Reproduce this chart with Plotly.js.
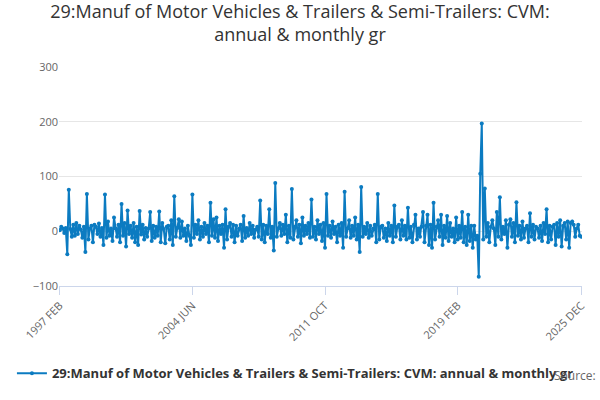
<!DOCTYPE html>
<html>
<head>
<meta charset="utf-8">
<script src="https://cdn.plot.ly/plotly-3.0.1.min.js"></script>
<style>html,body{margin:0;padding:0;background:#fff}#chart{width:600px;height:400px}</style>
</head>
<body>
<div id="chart"></div>
<script>
const SERIES_NAME = '<b>29:Manuf of Motor Vehicles & Trailers & Semi-Trailers: CVM: annual & monthly gr</b>';
const MONTHS = ['JAN','FEB','MAR','APR','MAY','JUN','JUL','AUG','SEP','OCT','NOV','DEC'];
const TICK_LABELS = ['1997 FEB', '2004 JUN', '2011 OCT', '2019 FEB', '2025 DEC'];

// monthly growth values, Feb 1997 .. Dec 2025
const values = [
  2, 8, 5, -3, 6, -42, 76, 4, -10, 12, -8,
  15, -5, 10, 3, -12, 8, -38, 68, -15, 5, 10, -20,
  12, 8, -5, 14, -10, 6, -25, 67, -12, 18, -8, 5,
  -18, 25, 5, -10, 12, -20, 50, -8, 15, -28, 38, -5,
  10, -12, 15, -20, 8, -25, 37, -6, 12, -15, 6, -10,
  5, 35, -18, 10, -12, 8, -8, 36, -20, 15, 4, -22,
  8, 10, -15, 20, -25, 64, -10, 6, 22, -12, 18, -8,
  5, -18, 10, -8, -25, 67, -12, 12, -5, 20, -15, 8,
  -10, 15, -5, 10, -20, 52, -8, 22, -12, 25, -18, 10,
  -5, 12, -30, 40, -15, 8, 15, -10, 12, -20, 10, -8,
  5, 12, -18, 28, -12, 6, -8, 15, -5, 10, -12, 3,
  8, -10, 56, -15, 12, -20, 10, -5, 40, -12, 8, -35,
  88, -10, 5, 15, -8, 12, -5, 30, -20, 10, -12, 77,
  -15, 8, 20, -10, 12, -22, 25, -8, 10, -5, 15, -12,
  58, -10, 8, -15, 20, -5, 12, -18, 15, -30, 68, -8,
  10, -12, 18, -5, 8, -20, 12, -8, 15, -30, 72, -10,
  5, 20, -12, 10, -8, 25, -15, 12, -38, 81, -10, 8,
  -5, 15, -12, 10, -8, 5, 12, -20, 68, -15, 8, 10,
  -12, 5, -18, 15, -8, 10, -20, 47, -10, 8, 12, -15,
  20, -8, 10, -15, 43, -12, 8, -20, 12, 30, -15, 5,
  -10, 8, 35, -20, 10, 30, -25, 12, -30, 52, -15, 8,
  20, -10, 30, -25, 10, -12, 28, -18, 15, -10, 5, -20,
  25, -15, 10, -12, 35, -20, 8, -25, 30, -18, 10, -30,
  10, -15, -8, -83, 105, 197, -15, 78, -10, 15, -20, 8,
  20, 5, -25, 35, -10, 62, -15, 8, -5, 20, -30, 12,
  22, -10, 15, -20, 53, -8, 10, -15, 18, -12, 5, 10,
  -20, 33, -10, 12, -15, 8, 5, -12, 10, -18, 15, -5,
  40, -20, 10, -15, 8, 12, -25, 15, -10, 20, -28, 10,
  15, -15, 18, -30, 15, 18, 12, -10, 5, 12, -8, -10
];

// build month labels starting at 1997 FEB
const dates = values.map(function (v, i) {
  const m = i + 1;
  return (1997 + Math.floor(m / 12)) + ' ' + MONTHS[m % 12];
});

Plotly.newPlot('chart', [{
  x: dates,
  y: values,
  type: 'scatter',
  mode: 'lines+markers',
  name: SERIES_NAME,
  line: {color: '#0b7bc1', width: 2},
  marker: {color: '#0b7bc1', size: 4}
}], {
  width: 600,
  height: 400,
  title: {
    text: '29:Manuf of Motor Vehicles & Trailers & Semi-Trailers: CVM:<br>annual & monthly gr',
    font: {family: 'Open Sans, sans-serif', size: 18, color: '#333'},
    x: 0.5, y: 0.955
  },
  margin: {l: 50, r: 18, t: 67, b: 108},
  xaxis: {
    type: 'category',
    tickmode: 'array',
    tickvals: TICK_LABELS,
    ticktext: TICK_LABELS,
    tickangle: -45,
    ticks: 'outside',
    ticklen: 8,
    tickcolor: '#ccd6eb',
    showline: true,
    linecolor: '#ccd6eb',
    showgrid: false,
    tickfont: {family: 'Open Sans, sans-serif', size: 11, color: '#666'},
    range: [-0.5, values.length - 0.5]
  },
  yaxis: {
    range: [-100, 300],
    dtick: 100,
    gridcolor: '#e6e6e6',
    zeroline: false,
    tickfont: {family: 'Open Sans, sans-serif', size: 11, color: '#666'}
  },
  showlegend: true,
  legend: {
    orientation: 'h',
    x: -0.09, y: -0.33,
    xanchor: 'left',
    font: {family: 'Open Sans, sans-serif', size: 13, color: '#333'}
  },
  annotations: [{
    text: 'Source:',
    xref: 'paper', yref: 'paper',
    x: 1.03, y: -0.455,
    xanchor: 'right', showarrow: false,
    font: {family: 'Open Sans, sans-serif', size: 12, color: '#666'}
  }]
}, {displayModeBar: false});
</script>
</body>
</html>
